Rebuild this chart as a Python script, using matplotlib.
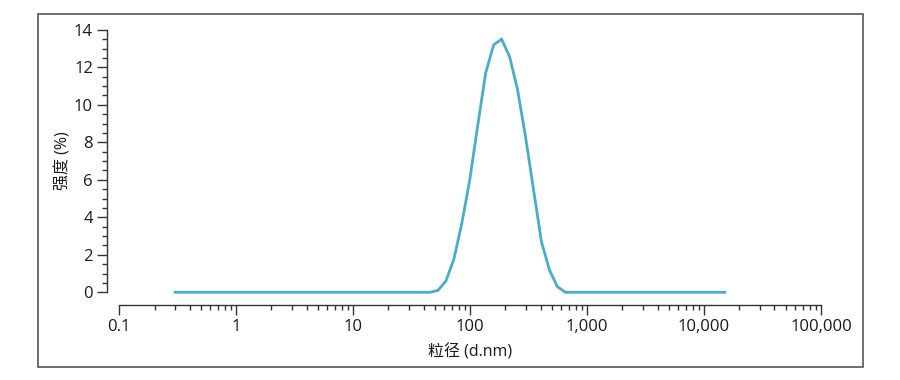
import matplotlib
matplotlib.use("Agg")
import matplotlib.pyplot as plt
from matplotlib.patches import Rectangle
from matplotlib.ticker import FixedLocator, FixedFormatter, MultipleLocator

plt.rcParams['font.family'] = ['Open Sans', 'Noto Sans CJK SC', 'DejaVu Sans']

# Size bins (d.nm) and intensity (%)
sizes = [0.3, 45.33, 53.02, 62.02, 72.55, 84.86, 99.27, 116.1, 135.8, 158.9,
         185.8, 217.4, 254.3, 297.5, 347.9, 407.0, 476.1, 556.9, 651.6, 15000]
intensity = [0, 0, 0.1, 0.6, 1.76, 3.68, 6.0, 8.9, 11.7, 13.2,
             13.5, 12.57, 10.8, 8.3, 5.5, 2.7, 1.2, 0.3, 0, 0]

xticks = [0.1, 1, 10, 100, 1000, 10000, 100000]
xticklabels = ['0.1', '1', '10', '100', '1,000', '10,000', '100,000']
yticks = [0, 2, 4, 6, 8, 10, 12, 14]

W, H = 900, 380
fig = plt.figure(figsize=(W / 100, H / 100), dpi=100)

# outer frame
fig.patches.append(Rectangle((38 / W, 1 - 367 / H), (863 - 38) / W, (367 - 14) / H,
                             transform=fig.transFigure, fill=False,
                             edgecolor='#555555', linewidth=1.2))

ax = fig.add_axes([119.3 / W, 1 - 292.3 / H, (821 - 119.3) / W, (292.3 - 29.8) / H])
ax.plot(sizes, intensity, color='#4BACC6', linewidth=2.0, clip_on=False,
        solid_joinstyle='miter')

ax.set_xscale('log')
ax.set_xlim(0.1, 100000)
ax.set_ylim(0, 14)

ax.spines['top'].set_visible(False)
ax.spines['right'].set_visible(False)
for s in ('left', 'bottom'):
    ax.spines[s].set_position(('outward', 9))
    ax.spines[s].set_color('#333333')
    ax.spines[s].set_linewidth(1.0)

ax.xaxis.set_major_locator(FixedLocator(xticks))
ax.xaxis.set_major_formatter(FixedFormatter(xticklabels))
minor = [m * d for d in [0.1, 1, 10, 100, 1000, 10000] for m in range(2, 10)]
ax.xaxis.set_minor_locator(FixedLocator(minor))
ax.xaxis.set_minor_formatter(FixedFormatter([''] * len(minor)))

ax.yaxis.set_major_locator(FixedLocator(yticks))
ax.yaxis.set_minor_locator(MultipleLocator(0.5))

ax.tick_params(which='major', length=7, width=1.0, color='#333333',
               labelsize=12, labelcolor='#1a1a1a', pad=3)
ax.tick_params(which='minor', length=3.8, width=1.0, color='#333333')

ax.set_xlabel('粒径 (d.nm)', fontsize=11.5, color='#1a1a1a', labelpad=7)
ax.set_ylabel('强度 (%)', fontsize=11.5, color='#1a1a1a', labelpad=2)

fig.savefig('out.png', dpi=100)
